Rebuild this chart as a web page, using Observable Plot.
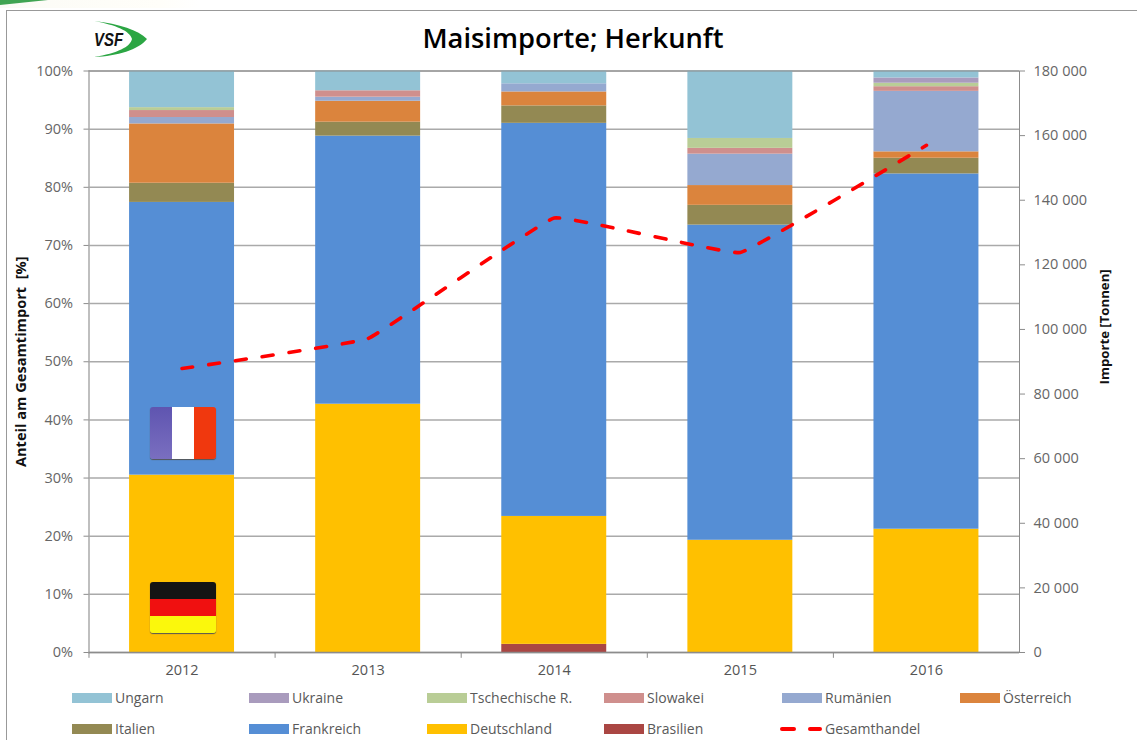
<!DOCTYPE html>
<html><head><meta charset="utf-8">
<script src="https://cdn.jsdelivr.net/npm/d3@7"></script>
<script src="https://cdn.jsdelivr.net/npm/@observablehq/plot@0.6"></script>
<style>
html,body{margin:0;padding:0;background:#fff;width:1137px;height:740px;overflow:hidden;position:relative;font-family:"Open Sans",sans-serif}
#chart{position:absolute;left:0;top:0}
#frameL{position:absolute;left:6px;top:10px;width:1131px;height:730px;border-left:1.5px solid #999;border-top:1.5px solid #999;box-sizing:border-box}
#title{position:absolute;left:323px;width:500px;top:19px;text-align:center;font:600 27.3px "Open Sans",sans-serif;color:#000}
.lg{position:absolute;font-size:14px;color:#595959;line-height:16px;white-space:nowrap}
.sw{position:absolute;width:40px;height:10px}
.flag{position:absolute;width:66px;height:52px;border-radius:3px;overflow:hidden;display:flex;box-shadow:0 1px 1px #555}
.flag.h{flex-direction:column}
.flag div{flex:1}
#logo{position:absolute;left:92px;top:20px}
#sliver{position:absolute;left:0;top:0;width:48px;height:5px;background:#2a9a40;clip-path:polygon(0 100%,0 100%,100% 0,0 0);opacity:.9}
#sliver2{position:absolute;left:0;top:0;width:200px;height:8px;background:linear-gradient(90deg,#fbfbf6,#fffef9 80%,#fff)}
</style></head><body>
<div id="sliver2"></div>
<div id="sliver"></div>
<div id="frameL"></div>
<div id="chart"></div>
<div id="title">Maisimporte; Herkunft</div>
<svg id="logo" width="58" height="40" viewBox="0 0 58 40"><path d="M2 1 C28 4 46 10 55 19 C46 30 26 36 2 37 C26 33 38 27 40 19 C38 11 24 5 2 1Z" fill="#2ca644"/><text x="2" y="26" font-family="Liberation Sans" font-weight="700" font-style="italic" font-size="19" textLength="29" lengthAdjust="spacingAndGlyphs" fill="#111">VSF</text></svg>
<div class="flag" style="left:150px;top:407px"><div style="background:linear-gradient(#5f55b0,#7a6fc0)"></div><div style="background:#fff"></div><div style="background:#f0380e"></div></div>
<div class="flag h" style="left:150px;top:582px;height:51px"><div style="background:#141414"></div><div style="background:#f01010"></div><div style="background:#fbf80c"></div></div>
<script>
const years = ["2012","2013","2014","2015","2016"];
const stackOrder = ["Brasilien","Deutschland","Frankreich","Italien","Österreich","Rumänien","Slowakei","Tschechische R.","Ukraine","Ungarn"];
const brasilien   = [0, 0, 1.4, 0, 0];
const deutschland = [30.5, 42.7, 22.0, 19.3, 21.2];
const frankreich  = [46.9, 46.1, 67.6, 54.2, 61.1];
const italien     = [3.3, 2.4, 3.0, 3.4, 2.7];
const oesterreich = [10.2, 3.6, 2.4, 3.4, 1.1];
const rumaenien   = [1.1, 0.7, 1.4, 5.4, 10.4];
const slowakei    = [1.2, 1.1, 0, 1.0, 0.8];
const tschechien  = [0.5, 0, 0, 1.7, 0.6];
const ukraine     = [0, 0, 0, 0, 0.9];
const ungarn      = [6.3, 3.4, 2.2, 11.6, 1.2];
const gesamthandel = [87900, 97200, 134500, 123800, 157000];
const colors = ["#aa4643","#ffc000","#558ed5","#938953","#db843d","#95a9d0","#cf8f8d","#b9cd96","#a99bbd","#93c3d5"];
const seriesValues = [brasilien,deutschland,frankreich,italien,oesterreich,rumaenien,slowakei,tschechien,ukraine,ungarn];
const legendRows = [
  ["Ungarn","Ukraine","Tschechische R.","Slowakei","Rumänien","Österreich"],
  ["Italien","Frankreich","Deutschland","Brasilien","Gesamthandel"]
];
const yTicks = d3.range(0,101,10);
const rightTicks = d3.range(0,180001,20000);
const RATIO = 1800;

const rows = stackOrder.flatMap((s,i)=>years.map((y,j)=>({year:y,series:s,value:seriesValues[i][j]})));
const lineRows = years.map((y,j)=>({year:y,total:gesamthandel[j]/RATIO}));
const spaceFmt = v => d3.format(",")(Math.round(v)).replace(/,/g," ");
const step = 186.1;

const plot = Plot.plot({
  width:1137, height:680,
  marginLeft:88.5, marginRight:118, marginTop:70.5, marginBottom:28,
  style:{fontFamily:'"Open Sans",sans-serif',fontSize:"14.5px",color:"#666",background:"transparent",overflow:"visible"},
  x:{domain:years,paddingInner:0.436,paddingOuter:0.218,round:false,label:null},
  y:{domain:[0,100],label:null},
  color:{domain:stackOrder,range:colors},
  marks:[
    Plot.ruleY(yTicks,{stroke:"#aaaaaa",strokeWidth:1.5}),
    Plot.frame({anchor:"left",stroke:"#aaaaaa",strokeWidth:1.5}),
    Plot.frame({anchor:"right",stroke:"#8c8c8c",strokeWidth:1}),
    Plot.barY(rows,{x:"year",y:"value",fill:"series",z:"series",order:stackOrder}),
    Plot.ruleY([0],{stroke:"#8c8c8c",strokeWidth:1.5}),
    Plot.ruleY([100],{stroke:"#8c8c8c",strokeWidth:1}),
    Plot.ruleX(years,{x:d=>d,y1:0,y2:-1,dx:-step/2,stroke:"#8c8c8c"}),
    Plot.axisY({ticks:yTicks,tickFormat:d=>d+"%",tickSize:5,tickPadding:11,stroke:"#8c8c8c",fill:"#666",label:null}),
    Plot.axisY({anchor:"right",ticks:rightTicks.map(v=>v/RATIO),tickFormat:v=>spaceFmt(v*RATIO),tickSize:5,tickPadding:9,stroke:"#8c8c8c",fill:"#666",label:null}),
    Plot.axisX({tickSize:0,tickPadding:12,fill:"#555",label:null}),
    Plot.line(lineRows,{x:"year",y:"total",stroke:"#ff0000",strokeWidth:3.6,strokeDasharray:"11 16",strokeLinecap:"round",curve:"cardinal",tension:0.8}),
    Plot.text(["Anteil am Gesamtimport\u00a0\u00a0[%]"],{frameAnchor:"left",y:50,dx:-68,rotate:-90,textAnchor:"middle",fontWeight:700,fontSize:14.6,fill:"#111"}),
    Plot.text(["Importe [Tonnen]"],{frameAnchor:"right",y:56,dx:85,rotate:-90,textAnchor:"middle",fontWeight:700,fontSize:13.2,fill:"#111"})
  ]
});
document.getElementById("chart").appendChild(plot);

const legendX = [[72,249,427,604,782,960],[72,249,427,604,782]];
const legendY = [698,729];
legendRows.forEach((row,r)=>row.forEach((name,c)=>{
  const x = legendX[r][c], yc = legendY[r];
  if(name==="Gesamthandel"){
    [[x-2,16],[x+26,14]].forEach(([l,w])=>{
      const d=document.createElement("div");d.className="sw";
      d.style.cssText=`left:${l}px;top:${yc-2}px;width:${w}px;height:4px;background:#ff0000;border-radius:2px`;
      document.body.appendChild(d);
    });
  } else {
    const d=document.createElement("div");d.className="sw";
    d.style.left=x+"px";d.style.top=(yc-5)+"px";
    d.style.background=colors[stackOrder.indexOf(name)];
    document.body.appendChild(d);
  }
  const t=document.createElement("div");t.className="lg";t.textContent=name;
  t.style.left=(x+43)+"px";t.style.top=(yc-8)+"px";
  document.body.appendChild(t);
}));
</script>
</body></html>
